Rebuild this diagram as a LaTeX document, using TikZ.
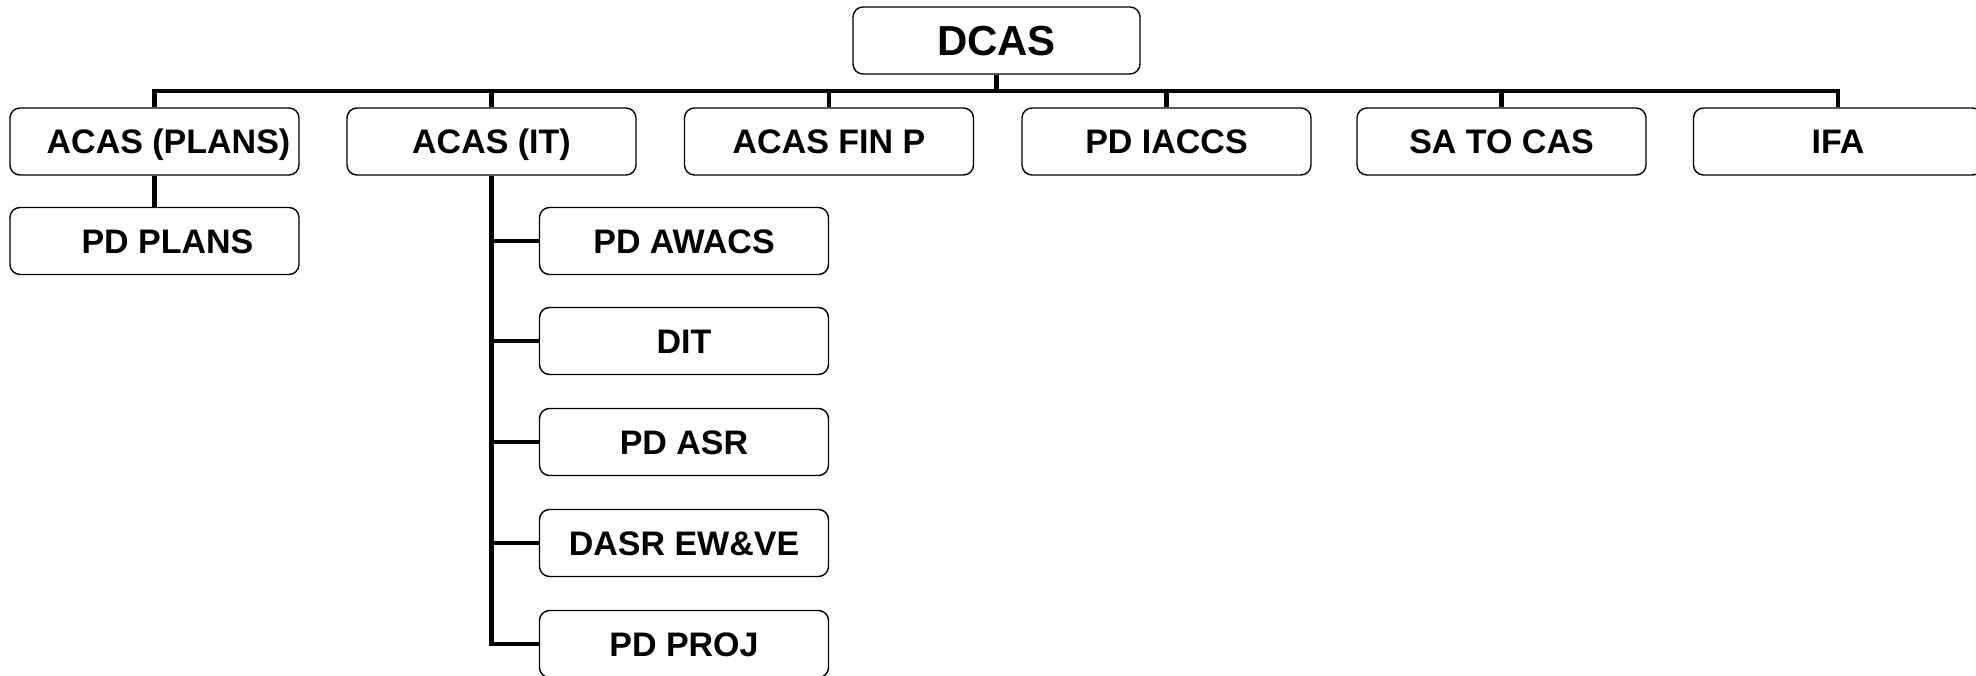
\documentclass[tikz,border=0pt]{standalone}
\usepackage{fontspec}
\setmainfont{Liberation Sans}
\begin{document}
\begin{tikzpicture}[x=1pt,y=-1pt,
  box/.style={draw=black,line width=1.4pt,rounded corners=10pt,minimum width=289pt,minimum height=67pt,
    inner sep=0pt,text height=24.5pt,text depth=0pt,font=\fontsize{34}{38}\selectfont\bfseries},
  bigbox/.style={box,minimum width=287pt,text height=30pt,font=\fontsize{42}{46}\selectfont\bfseries},
  conn/.style={line width=4.5pt,line join=miter}]
\useasboundingbox (0,0) rectangle (1976,676);
\fill[white] (0,0) rectangle (1976,676);
\coordinate (bus) at (0,91);
\node[bigbox] (dcas) at (996.5,40.5) {DCAS};
\node[box] (acasplans) at (154.5,141.5) {\hspace*{28pt}ACAS (PLANS)};
\node[box] (acasit) at (491.5,141.5) {ACAS (IT)};
\node[box] (acasfin) at (829,141.5) {ACAS FIN P};
\node[box] (pdiaccs) at (1166.5,141.5) {PD IACCS};
\node[box] (satocas) at (1501.5,141.5) {SA TO CAS};
\node[box] (ifa) at (1838,141.5) {IFA};
\node[box] (pdplans) at (154.5,241) {\hspace*{26pt}PD PLANS};
\node[box] (pdawacs) at (684,241) {PD AWACS};
\node[box] (dit) at (684,341) {DIT};
\node[box] (pdasr) at (684,442) {PD ASR};
\node[box] (dasr) at (684,543) {DASR EW\&VE};
\node[box] (pdproj) at (684,644) {PD PROJ};
% top bus
\draw[conn] (dcas.south) -- (dcas.south |- bus);
\draw[conn] (acasplans.north) |- (ifa.north |- bus) -- (ifa.north);
\draw[conn] (acasit.north) -- (acasit.north |- bus);
\draw[conn] (acasfin.north) -- (acasfin.north |- bus);
\draw[conn] (pdiaccs.north) -- (pdiaccs.north |- bus);
\draw[conn] (satocas.north) -- (satocas.north |- bus);
% plans
\draw[conn] (acasplans.south) -- (pdplans.north);
% IT branch
\draw[conn] (acasit.south) |- (pdproj.west);
\draw[conn] (acasit.south |- pdawacs.west) -- (pdawacs.west);
\draw[conn] (acasit.south |- dit.west) -- (dit.west);
\draw[conn] (acasit.south |- pdasr.west) -- (pdasr.west);
\draw[conn] (acasit.south |- dasr.west) -- (dasr.west);
\end{tikzpicture}
\end{document}
